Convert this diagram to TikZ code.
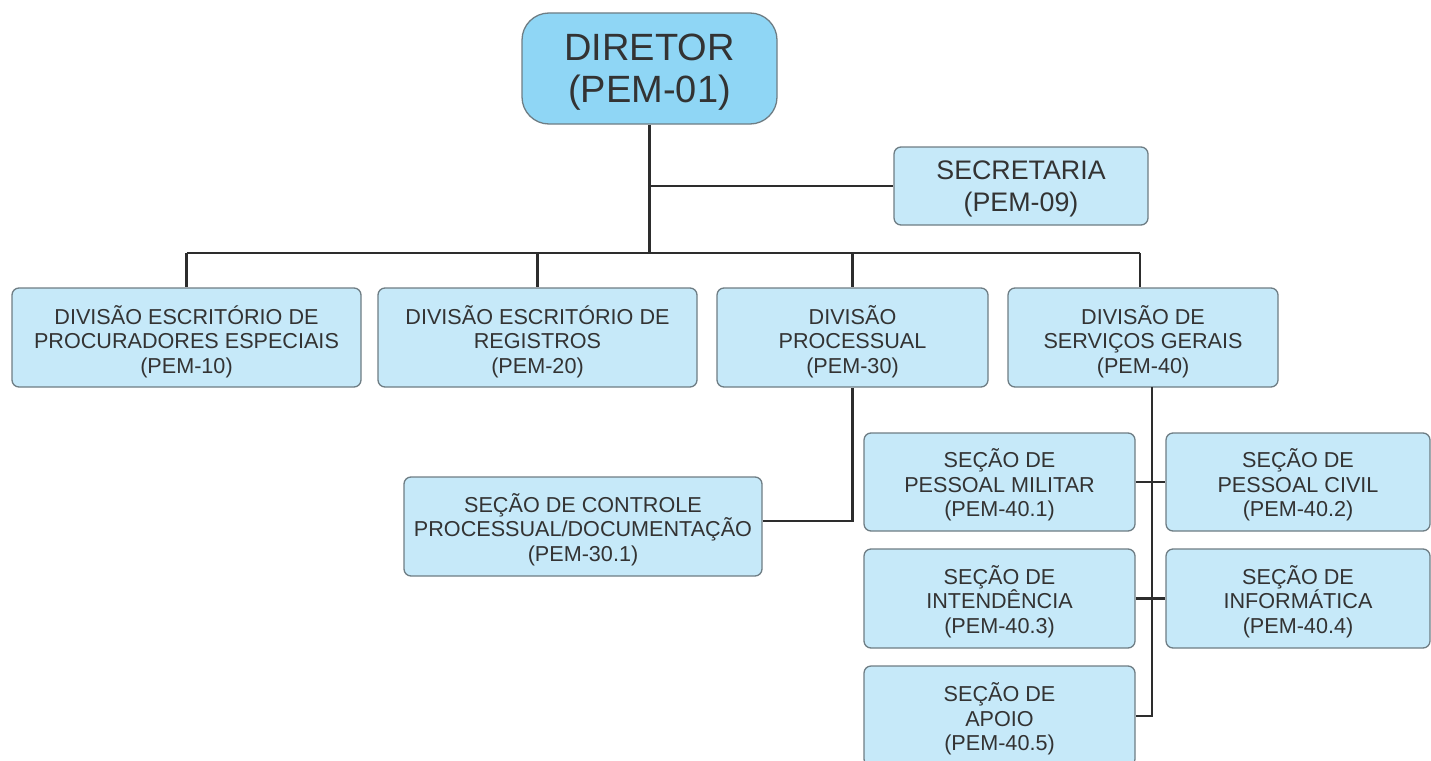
\documentclass[tikz,border=0pt]{standalone}
\usepackage{fontspec}
\setmainfont{Liberation Sans}
\definecolor{dirfill}{RGB}{143,214,245}
\definecolor{boxfill}{RGB}{198,233,249}
\definecolor{boxline}{RGB}{110,125,132}
\definecolor{txt}{RGB}{51,51,51}
\definecolor{conn}{RGB}{45,45,45}
\tikzset{
  orgbox/.style={draw=boxline, line width=1.3pt, fill=boxfill, rounded corners=7pt,
    align=center, text=txt, inner sep=0pt, font=\fontsize{21.6}{24.3}\selectfont,
    text height=69pt, text depth=0pt},
  toprow/.style={orgbox, text height=71pt},
  dirbox/.style={orgbox, fill=dirfill, rounded corners=27pt, font=\fontsize{38}{42}\selectfont,
    text height=67pt},
  secbox/.style={orgbox, font=\fontsize{26.8}{32}\selectfont, text height=51pt},
  link/.style={draw=conn, line width=2.3pt}
}
\begin{document}
\begin{tikzpicture}[x=1pt,y=-1pt]
\useasboundingbox (0,0) rectangle (1431,760);
\clip (0,0) rectangle (1431,760);
\node[dirbox, minimum width=255, minimum height=111] (dir) at (649.5,68.5) {DIRETOR\\(PEM-01)};
\node[secbox, minimum width=254, minimum height=78] (sec) at (1021,186) {SECRETARIA\\(PEM-09)};
\node[toprow, minimum width=349, minimum height=99] (d10) at (186.5,337.5) {DIVISÃO ESCRITÓRIO DE\\PROCURADORES ESPECIAIS\\(PEM-10)};
\node[toprow, minimum width=319, minimum height=99] (d20) at (537.5,337.5) {DIVISÃO ESCRITÓRIO DE\\REGISTROS\\(PEM-20)};
\node[toprow, minimum width=271, minimum height=99] (d30) at (852.5,337.5) {DIVISÃO\\PROCESSUAL\\(PEM-30)};
\node[toprow, minimum width=270, minimum height=99] (d40) at (1143,337.5) {DIVISÃO DE\\SERVIÇOS GERAIS\\(PEM-40)};
\node[orgbox, minimum width=358, minimum height=99] (s301) at (583,526.5) {SEÇÃO DE CONTROLE\\PROCESSUAL/DOCUMENTAÇÃO\\(PEM-30.1)};
\node[orgbox, minimum width=271, minimum height=98] (s401) at (999.5,482) {SEÇÃO DE\\PESSOAL MILITAR\\(PEM-40.1)};
\node[orgbox, minimum width=264, minimum height=98] (s402) at (1298,482) {SEÇÃO DE\\PESSOAL CIVIL\\(PEM-40.2)};
\node[orgbox, minimum width=271, minimum height=99] (s403) at (999.5,598.5) {SEÇÃO DE\\INTENDÊNCIA\\(PEM-40.3)};
\node[orgbox, minimum width=264, minimum height=99] (s404) at (1298,598.5) {SEÇÃO DE\\INFORMÁTICA\\(PEM-40.4)};
\node[orgbox, minimum width=271, minimum height=100] (s405) at (999.5,716) {SEÇÃO DE\\APOIO\\(PEM-40.5)};
\coordinate (bus) at (649.5,253);
\coordinate (v30) at (852.5,521);
\coordinate (v40) at (1152,387);
% director to bus
\draw[link] (dir.south) -- (bus);
\draw[link] (dir.south |- sec.west) -- (sec.west);
\draw[link] (d10.north |- bus) -- ([xshift=-3]d40.north |- bus);
\draw[link] (d10.north |- bus) -- (d10.north);
\draw[link] (d20.north |- bus) -- (d20.north);
\draw[link] (d30.north |- bus) -- (d30.north);
\draw[link] ([xshift=-3]d40.north |- bus) -- ([xshift=-3]d40.north);
% processual
\draw[link] (d30.south) -- (v30) -- (s301.east |- v30);
% servicos gerais
\draw[link] (v40) |- (s405.east);
\draw[link] (s401.east) -- (s402.west);
\draw[link] (s403.east) -- (s404.west);
\end{tikzpicture}
\end{document}
